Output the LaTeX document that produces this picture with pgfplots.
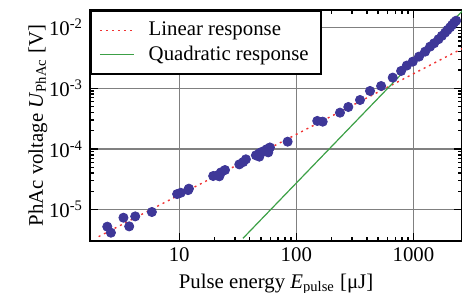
\documentclass[border=0pt]{standalone}
\usepackage{fontspec}
\setmainfont{Liberation Serif}
\usepackage{pgfplots}
\pgfplotsset{compat=1.18}
\definecolor{ptcol}{RGB}{62,55,152}
\definecolor{lincol}{RGB}{240,50,50}
\definecolor{quadcol}{RGB}{60,160,70}
\begin{document}
\begin{tikzpicture}
\begin{axis}[
  xmode=log, ymode=log,
  scale only axis, width=186pt, height=115.5pt,
  xmin=1.73, xmax=2600, ymin=3.05e-6, ymax=1.95e-2,
  xtick={10,100,1000}, xticklabels={10,100,1000},
  ytick={1e-5,1e-4,1e-3,1e-2},
  yticklabels={10\textsuperscript{-5},10\textsuperscript{-4},10\textsuperscript{-3},10\textsuperscript{-2}},
  grid=major, major grid style={black!50, line width=0.6pt},
  axis line style={line width=1pt},
  tick align=inside, tick style={black, line width=0.7pt},
  major tick length=4pt, minor tick length=2pt,
  font=\fontsize{10.4}{12.5}\selectfont,
  ticklabel style={font=\fontsize{10.4}{12.5}\selectfont},
  /pgf/number format/assume math mode=true,
  xlabel={Pulse energy \textit{E}\textsubscript{pulse} [μJ]},
  ylabel={PhAc voltage \textit{U}\textsubscript{PhAc} [V]},
  xlabel style={yshift=1pt},
  ylabel style={yshift=-6pt},
  legend style={at={(0,1)}, anchor=north west, draw=black, line width=1pt, fill=white,
    font=\fontsize{10.4}{12.5}\selectfont, inner xsep=4pt, inner ysep=3.5pt, row sep=-0.5pt,
    legend cell align=left,
    /tikz/every odd column/.append style={column sep=5pt}},
  clip=true,
]
\addplot[lincol, dash pattern=on 1pt off 2pt, line width=0.7pt,
  legend image code/.code={\draw[lincol, line width=0.8pt, dash pattern=on 1pt off 2pt] (0cm,0cm) -- (0.6cm,0cm);}]
  coordinates {(2.05,3.6e-6) (2600,4.5e-3)};
\addlegendentry{Linear response}
\addplot[quadcol, line width=0.6pt,
  legend image code/.code={\draw[quadcol, line width=0.8pt, solid] (0cm,0cm) -- (0.6cm,0cm);}]
  coordinates {(35,3.37e-6) (2700,2.0e-2)};
\addlegendentry{Quadratic response}
\addplot[only marks, mark=*, mark size=2.3pt, mark options={fill=ptcol, draw=ptcol}, forget plot] coordinates {
(2.43,5.25e-6) (2.61,4.18e-6) (3.34,7.38e-6) (3.74,5.31e-6) (4.21,7.76e-6)
(5.84,9.16e-6) (9.6,1.81e-5) (10.3,1.9e-5) (12.1,2.22e-5) (11.9,2.1e-5)
(19.5,3.59e-5) (21.1,3.68e-5) (22.0,3.55e-5) (22.7,4.12e-5) (24.6,4.5e-5)
(32.6,5.58e-5) (35.2,6.1e-5) (37.1,6.76e-5) (45.2,7.87e-5) (48.3,8.5e-5)
(48.3,7.48e-5) (50.6,8.93e-5) (54,9.4e-5) (55.8,9.9e-5) (57.6,8.8e-5)
(59.5,1.06e-4) (84.3,1.32e-4) (151,2.9e-4) (168,2.82e-4) (236,3.97e-4)
(278,4.92e-4) (350,6.42e-4) (426,9.04e-4) (530,1.09e-3) (666,1.5e-3)
(785,1.93e-3) (878,2.37e-3) (987,2.75e-3) (1117,3.33e-3) (1259,4.02e-3)
(1388,4.86e-3) (1503,5.52e-3) (1637,6.43e-3) (1748,7.3e-3) (1867,8.28e-3)
(1955,9.16e-3) (2058,1.01e-2) (2143,1.11e-2) (2228,1.21e-2) (2318,1.3e-2)
};
\coordinate (ll) at (rel axis cs:0,0);
\coordinate (ur) at (rel axis cs:1,1);
\end{axis}
\pgfresetboundingbox
\path ([xshift=-45pt,yshift=-26pt]ll) rectangle ([yshift=5pt]ur);
\end{tikzpicture}
\end{document}
